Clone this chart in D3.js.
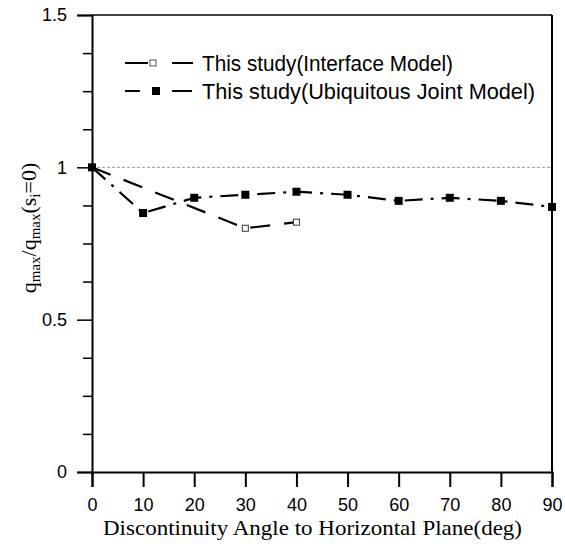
<!DOCTYPE html>
<html><head><meta charset="utf-8">
<script src="https://cdn.jsdelivr.net/npm/d3@7"></script>
<style>body{margin:0;background:#fff}svg{display:block}</style>
</head><body>
<script>
const angles = [0,10,20,30,40,50,60,70,80,90];
const interfaceAngles = [0,30,40];
const interfaceValues = [1.0,0.80,0.82];
const ubiquitousAngles = [0,10,20,30,40,50,60,70,80,90];
const ubiquitousValues = [1.0,0.85,0.90,0.91,0.92,0.91,0.89,0.90,0.89,0.87];
const yTickMajor = [0,0.5,1,1.5];
const yTickMinor = [0.125,0.25,0.375,0.625,0.75,0.875,1.125,1.25,1.375];
const seriesNames = ["This study(Interface Model)","This study(Ubiquitous Joint Model)"];

const W=565,H=551;
const m={l:92,r:13,t:15,b:79};
const svg=d3.select("body").append("svg").attr("width",W).attr("height",H);
const x=d3.scaleLinear().domain([0,90]).range([m.l,W-m.r]);
const y=d3.scaleLinear().domain([0,1.5]).range([H-m.b,m.t]);

// gridline at 1
svg.append("line").attr("x1",x(0)).attr("x2",x(90)).attr("y1",y(1)).attr("y2",y(1))
  .attr("stroke","#999").attr("stroke-width",1).attr("stroke-dasharray","3,2");

// frame top and right
svg.append("line").attr("x1",x(0)).attr("x2",x(90)).attr("y1",y(1.5)).attr("y2",y(1.5)).attr("stroke","#000").attr("stroke-width",1.5);
svg.append("line").attr("x1",x(90)).attr("x2",x(90)).attr("y1",y(1.5)).attr("y2",y(0)).attr("stroke","#000").attr("stroke-width",2);

// axes
const xAxis=d3.axisBottom(x).tickValues(angles).tickSize(15).tickPadding(11).tickFormat(d3.format("d"));
const gx=svg.append("g").attr("transform",`translate(0,${y(0)})`).call(xAxis);
gx.select(".domain").attr("stroke-width",2);
gx.selectAll(".tick line").attr("stroke-width",2);
gx.selectAll("text").attr("font-family","Liberation Sans, Arial, sans-serif").attr("font-size",18).attr("fill","#000");

const yAxis=d3.axisLeft(y).tickValues(yTickMajor).tickSize(15).tickPadding(10).tickFormat(d=>String(d));
const gy=svg.append("g").attr("transform",`translate(${x(0)},0)`).call(yAxis);
gy.select(".domain").attr("stroke-width",2);
gy.selectAll(".tick line").attr("stroke-width",1.5);
gy.selectAll("text").attr("font-family","Liberation Sans, Arial, sans-serif").attr("font-size",18).attr("fill","#000");
const gym=svg.append("g").attr("transform",`translate(${x(0)},0)`).call(d3.axisLeft(y).tickValues(yTickMinor).tickSize(9).tickFormat(""));
gym.select(".domain").remove();
gym.selectAll(".tick line").attr("stroke-width",1.5);

// series
const line=d3.line().x(d=>x(d[0])).y(d=>y(d[1]));
const ubi=ubiquitousAngles.map((a,i)=>[a,ubiquitousValues[i]]);
const itf=interfaceAngles.map((a,i)=>[a,interfaceValues[i]]);
svg.append("path").datum(ubi).attr("d",line).attr("fill","none").attr("stroke","#000")
  .attr("stroke-width",2.2).attr("stroke-dasharray","18,8,3,8");
svg.append("path").datum(itf).attr("d",line).attr("fill","none").attr("stroke","#000")
  .attr("stroke-width",2.2).attr("stroke-dasharray","20,14");

svg.selectAll(".ubm").data(ubi).enter().append("rect")
  .attr("x",d=>x(d[0])-4).attr("y",d=>y(d[1])-4).attr("width",8).attr("height",8).attr("fill","#000");
svg.selectAll(".itm").data(itf.slice(1)).enter().append("rect")
  .attr("x",d=>x(d[0])-3).attr("y",d=>y(d[1])-3).attr("width",6).attr("height",6)
  .attr("fill","#fff").attr("stroke","#333").attr("stroke-width",1);

// legend
const lg=svg.append("g");
const ly=[63,91];
lg.append("line").attr("x1",125).attr("x2",148).attr("y1",ly[0]).attr("y2",ly[0]).attr("stroke","#000").attr("stroke-width",2);
lg.append("rect").attr("x",150).attr("y",ly[0]-3).attr("width",6).attr("height",6).attr("fill","#fff").attr("stroke","#555").attr("stroke-width",1);
lg.append("line").attr("x1",172).attr("x2",193).attr("y1",ly[0]).attr("y2",ly[0]).attr("stroke","#000").attr("stroke-width",2);
lg.append("line").attr("x1",125).attr("x2",140).attr("y1",ly[1]).attr("y2",ly[1]).attr("stroke","#000").attr("stroke-width",2);
lg.append("rect").attr("x",152).attr("y",ly[1]-4).attr("width",8).attr("height",8).attr("fill","#000");
lg.append("line").attr("x1",172).attr("x2",192).attr("y1",ly[1]).attr("y2",ly[1]).attr("stroke","#000").attr("stroke-width",2);
const legendLen=[251,333];
lg.selectAll("text").data(seriesNames).enter().append("text")
  .attr("x",202).attr("y",(d,i)=>ly[i]+8).text(d=>d)
  .attr("textLength",(d,i)=>legendLen[i]).attr("lengthAdjust","spacingAndGlyphs")
  .attr("font-family","Liberation Sans, Arial, sans-serif").attr("font-size",22).attr("fill","#000");

// x label
svg.append("text").attr("x",312.5).attr("y",535).attr("text-anchor","middle")
  .attr("textLength",419).attr("lengthAdjust","spacingAndGlyphs")
  .attr("font-family","Liberation Serif, Times New Roman, serif").attr("font-size",21).attr("fill","#000")
  .text("Discontinuity Angle to Horizontal Plane(deg)");

// y label
const yl=svg.append("text").attr("transform","translate(36,228) rotate(-90)").attr("text-anchor","middle")
  .attr("font-family","Liberation Serif, Times New Roman, serif").attr("font-size",22).attr("fill","#000");
yl.append("tspan").text("q");
yl.append("tspan").attr("font-size",15).attr("dy",4).text("max");
yl.append("tspan").attr("dy",-4).text("/q");
yl.append("tspan").attr("font-size",15).attr("dy",4).text("max");
yl.append("tspan").attr("dy",-4).text("(s");
yl.append("tspan").attr("font-size",15).attr("dy",4).text("i");
yl.append("tspan").attr("dy",-4).text("=0)");
</script>
</body></html>
